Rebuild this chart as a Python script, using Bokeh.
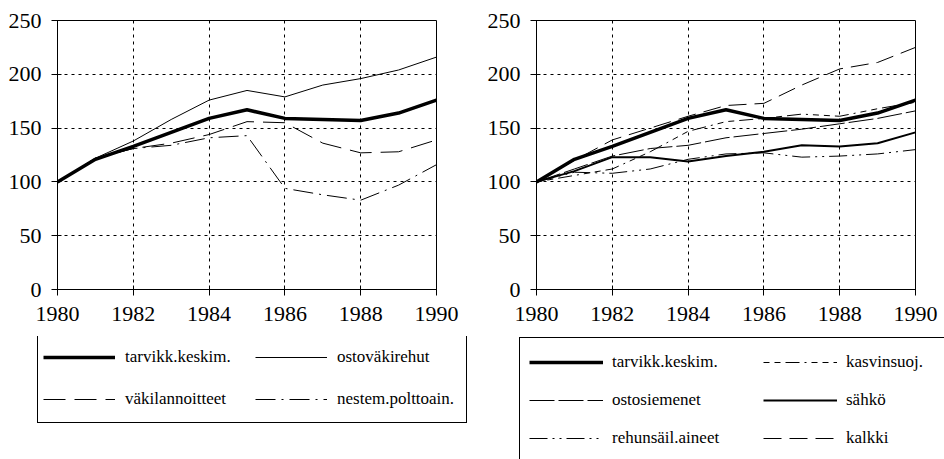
from bokeh.plotting import figure
from bokeh.layouts import row, column
from bokeh.models import Legend, LegendItem, FixedTicker
from bokeh.embed import file_html
from bokeh.resources import INLINE

years = [1980, 1981, 1982, 1983, 1984, 1985, 1986, 1987, 1988, 1989, 1990]
tick_years = [1980, 1982, 1984, 1986, 1988, 1990]
tick_values = [0, 50, 100, 150, 200, 250]

# left panel
tarvikk_keskim = [100, 121, 133, 146, 159, 167, 159, 158, 157, 164, 176]
ostovakirehut = [100, 122, 138, 158, 176, 185, 179, 190, 196, 204, 216]
vakilannoitteet = [100, 122, 131, 136, 144, 156, 155, 136, 127, 128, 139]
nestem_polttoain = [100, 122, 131, 134, 141, 143, 94, 88, 83, 97, 116]

# right panel
kasvinsuoj = [100, 106, 112, 128, 147, 156, 159, 163, 161, 168, 174]
ostosiemenet = [100, 112, 124, 131, 134, 141, 145, 149, 154, 159, 166]
sahko = [100, 110, 123, 123, 119, 124, 128, 134, 133, 136, 146]
rehunsail_aineet = [100, 109, 108, 112, 121, 126, 127, 123, 124, 126, 130]
kalkki = [100, 120, 139, 150, 161, 171, 173, 190, 205, 211, 225]

FONT = "Liberation Serif, Times New Roman, DejaVu Serif, serif"

left_series = [
    ("tarvikk.keskim.", tarvikk_keskim, dict(line_width=3.5)),
    ("ostoväkirehut", ostovakirehut, dict(line_width=1)),
    ("väkilannoitteet", vakilannoitteet, dict(line_width=1, line_dash="22 9")),
    ("nestem.polttoain.", nestem_polttoain, dict(line_width=1, line_dash="20 6 2 6")),
]
right_series = [
    ("tarvikk.keskim.", tarvikk_keskim, dict(line_width=3.5)),
    ("kasvinsuoj.", kasvinsuoj, dict(line_width=1, line_dash="6 5 6 5 14 5 2 5")),
    ("ostosiemenet", ostosiemenet, dict(line_width=1, line_dash="25 4")),
    ("sähkö", sahko, dict(line_width=2)),
    ("rehunsäil.aineet", rehunsail_aineet, dict(line_width=1, line_dash="18 5 2 5 2 5")),
    ("kalkki", kalkki, dict(line_width=1, line_dash="18 8")),
]


def make_fig(width, height, mb_left, mb_right, mb_top, mb_bottom):
    p = figure(width=width, height=height, x_range=(1980, 1990), y_range=(0, 250),
               output_backend="svg", toolbar_location=None,
               min_border_left=mb_left, min_border_right=mb_right,
               min_border_top=mb_top, min_border_bottom=mb_bottom,
               background_fill_color="white", border_fill_color="white")
    p.outline_line_color = "black"
    p.outline_line_alpha = 1
    p.outline_line_width = 1
    for ax in (p.xaxis[0], p.yaxis[0]):
        ax.axis_line_color = "black"
        ax.major_tick_line_color = "black"
        ax.minor_tick_line_color = None
        ax.major_tick_in = 4
        ax.major_tick_out = 6
        ax.major_label_text_font = FONT
        ax.major_label_text_font_size = "22px"
        ax.major_label_text_color = "black"
    p.xaxis[0].ticker = FixedTicker(ticks=tick_years)
    p.yaxis[0].ticker = FixedTicker(ticks=tick_values)
    p.xaxis[0].major_label_standoff = 11
    p.yaxis[0].major_label_standoff = 10
    for g in (p.xgrid[0], p.ygrid[0]):
        g.grid_line_color = "black"
        g.grid_line_dash = "3 4"
        g.grid_line_width = 1
        g.grid_line_alpha = 1
    return p


def make_legend_fig(width, height, series, loc, glyph_w, glyph_h, standoff,
                    label_w, spacing, padding):
    # a frame-only figure that holds the legend; its lines lie outside its ranges
    lf = figure(width=width, height=height, x_range=(0, 1), y_range=(0, 1),
                output_backend="svg", toolbar_location=None,
                min_border=0, background_fill_color="white", border_fill_color="white")
    lf.axis.visible = False
    lf.grid.visible = False
    lf.outline_line_color = None
    items = []
    for label, vals, style in series:
        r = lf.line(years, vals, line_color="black", **style)
        items.append(LegendItem(label=label, renderers=[r]))
    leg = Legend(items=items, location=loc)
    leg.label_text_font = FONT
    leg.label_text_font_size = "17px"
    leg.label_text_color = "black"
    leg.glyph_width = glyph_w
    leg.glyph_height = glyph_h
    leg.label_height = glyph_h
    leg.label_width = label_w
    leg.label_standoff = standoff
    leg.spacing = spacing
    leg.padding = padding
    leg.margin = 0
    leg.border_line_color = "black"
    leg.border_line_width = 1
    leg.border_line_alpha = 1
    leg.background_fill_color = "white"
    leg.background_fill_alpha = 1
    leg.orientation = "horizontal"
    leg.ncols = 2
    lf.add_layout(leg)
    return lf


# ---------- left chart ----------
p1 = make_fig(478, 336, 57, 42, 20, 45)
for label, vals, style in left_series[1:] + left_series[:1]:
    p1.line(years, vals, line_color="black", **style)

# ---------- right chart ----------
p2 = make_fig(466, 336, 58, 29, 16, 47)
for label, vals, style in right_series[1:] + right_series[:1]:
    p2.line(years, vals, line_color="black", **style)

lf1 = make_legend_fig(478, 123, left_series, (37, 36), 72, 36, 10, 124, 6, 5)
lf2 = make_legend_fig(466, 123, right_series, (41, -4), 74, 30, 9, 143, 8, 9)

layout = column(row(p1, p2), row(lf1, lf2))
open("out.html", "w").write(file_html(layout, INLINE))
